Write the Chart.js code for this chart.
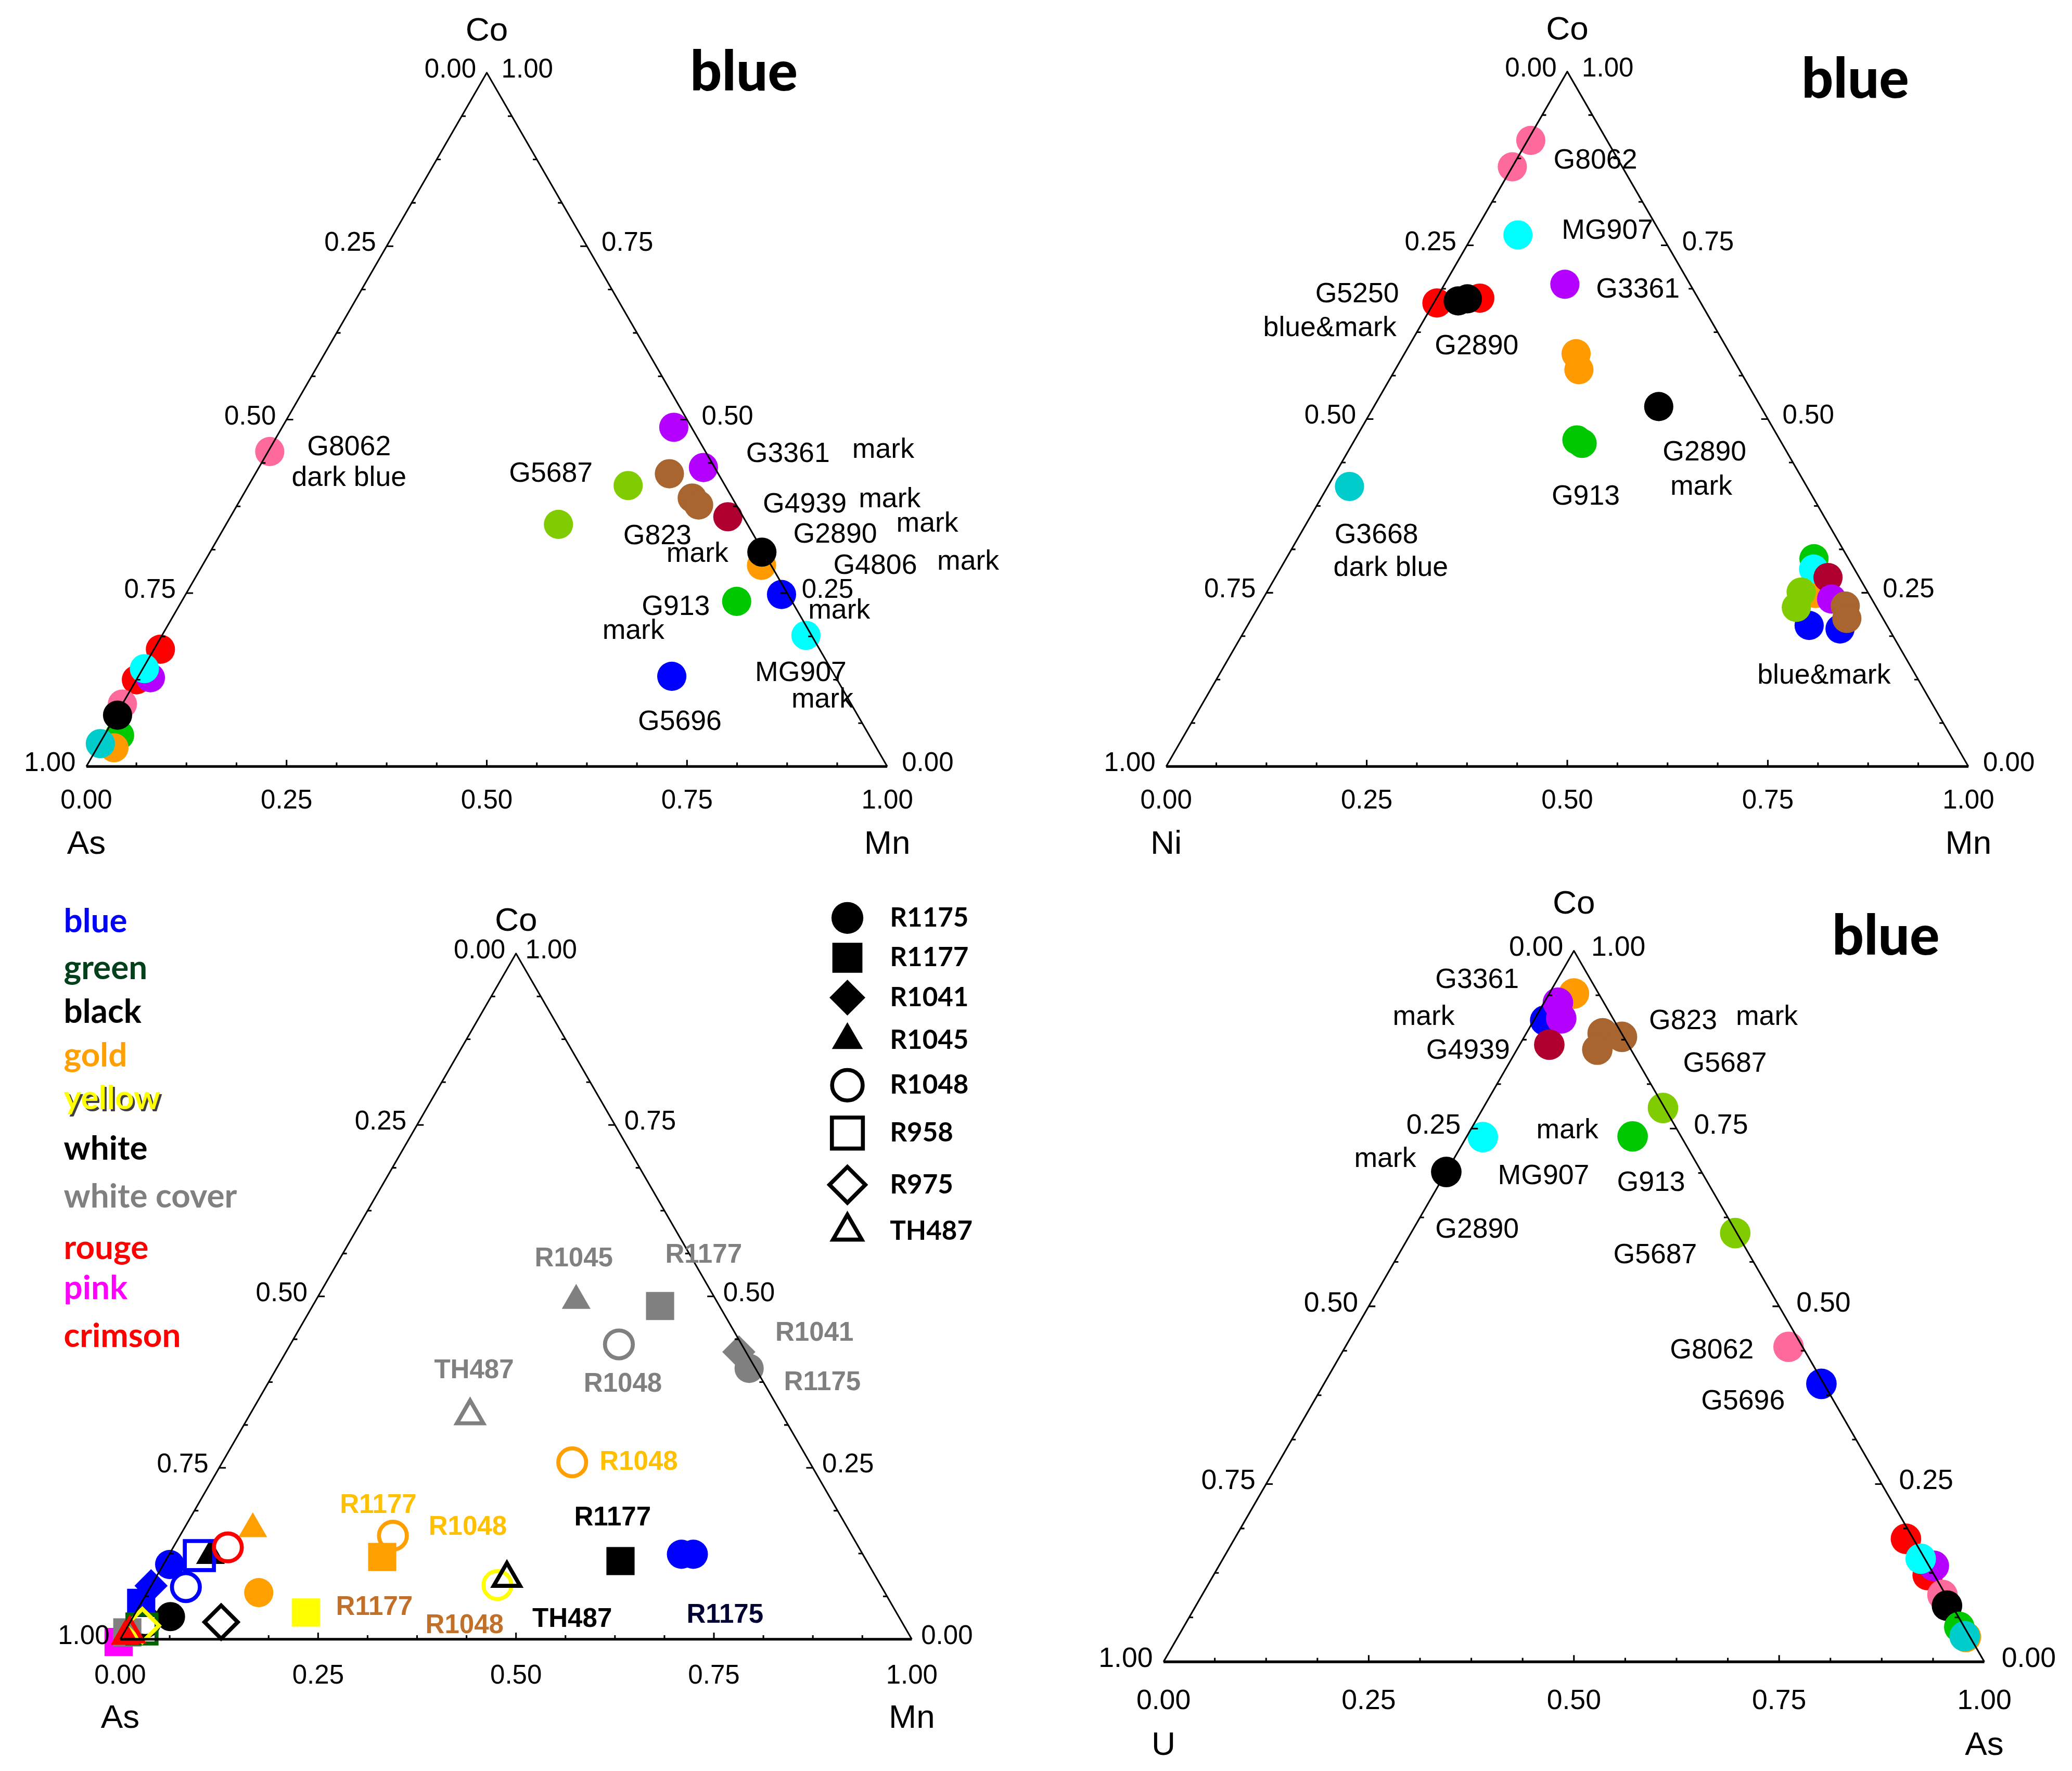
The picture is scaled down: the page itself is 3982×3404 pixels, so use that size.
<!DOCTYPE html>
<html>
<head>
<meta charset="utf-8">
<script src="https://cdn.jsdelivr.net/npm/chart.js@4.4.1/dist/chart.umd.min.js"></script>
<style>
html, body { margin: 0; padding: 0; background: #fff; }
body { width: 3982px; height: 3404px; position: relative; overflow: hidden; }
canvas { position: absolute; }
</style>
</head>
<body>
<canvas id="tl"></canvas>
<canvas id="tr"></canvas>
<canvas id="bl"></canvas>
<canvas id="br"></canvas>
<script>
var S = 3982 / 1560;
var H3 = Math.sqrt(3) / 2;
var FONT = '"Liberation Sans", Arial, sans-serif';

var tickLabels = ['0.00', '0.25', '0.50', '0.75', '1.00'];

// top left: As - Mn - Co
var tlColor = ['purple', 'purple', 'brown', 'lime', 'brown', 'brown', 'crimson', 'lime', 'orange', 'black', 'blue', 'green', 'cyan', 'blue',
    'pink', 'red', 'red', 'purple', 'cyan', 'pink', 'green', 'orange', 'teal', 'black'];
var tlCo = [0.489, 0.431, 0.422, 0.405, 0.387, 0.377, 0.360, 0.349, 0.290, 0.309, 0.248, 0.238, 0.189, 0.130,
    0.454, 0.169, 0.125, 0.128, 0.141, 0.090, 0.045, 0.027, 0.033, 0.074];
var tlMn = [0.489, 0.555, 0.517, 0.474, 0.563, 0.576, 0.621, 0.415, 0.698, 0.689, 0.744, 0.693, 0.804, 0.666,
    0.002, 0.008, 0.000, 0.016, 0.002, 0.000, 0.019, 0.021, 0.001, 0.002];

// top right: Ni - Mn - Co
var trColor = ['pink', 'pink', 'cyan', 'purple', 'red', 'red', 'black', 'black', 'orange', 'orange', 'black', 'green', 'green', 'teal',
    'orange', 'green', 'cyan', 'crimson', 'purple', 'blue', 'blue', 'lime', 'lime', 'brown', 'brown'];
var trCo = [0.901, 0.863, 0.765, 0.694, 0.667, 0.674, 0.670, 0.673, 0.594, 0.571, 0.518, 0.470, 0.465, 0.403,
    0.249, 0.299, 0.284, 0.272, 0.241, 0.203, 0.198, 0.251, 0.229, 0.231, 0.213];
var trMn = [0.004, 0.000, 0.056, 0.150, 0.004, 0.054, 0.029, 0.039, 0.214, 0.229, 0.355, 0.277, 0.286, 0.027,
    0.685, 0.658, 0.665, 0.689, 0.709, 0.700, 0.741, 0.666, 0.671, 0.731, 0.742];

// bottom right: U - As - Co
var brColor = ['orange', 'blue', 'purple', 'purple', 'crimson', 'brown', 'brown', 'brown', 'lime', 'cyan', 'green', 'black', 'lime', 'pink', 'blue',
    'red', 'red', 'purple', 'cyan', 'pink', 'black', 'orange', 'green', 'teal'];
var brCo = [0.940, 0.902, 0.927, 0.905, 0.868, 0.884, 0.879, 0.861, 0.779, 0.738, 0.739, 0.689, 0.603, 0.443, 0.391,
    0.173, 0.122, 0.135, 0.145, 0.094, 0.079, 0.035, 0.049, 0.036];
var brAs = [0.030, 0.014, 0.017, 0.032, 0.036, 0.093, 0.119, 0.098, 0.219, 0.020, 0.202, 0.000, 0.395, 0.540, 0.606,
    0.818, 0.870, 0.871, 0.850, 0.902, 0.915, 0.960, 0.945, 0.958];

// bottom left: As - Mn - Co, by sample and colour
var blSample = ['R1177',
    'R1045', 'R1177', 'R1048', 'R1041', 'R1175', 'TH487',
    'R1048', 'R1048', 'R1177', 'R1045', 'R1175',
    'R1177', 'R1048',
    'TH487', 'R1177', 'R975', 'R1048', 'R1175', 'R1045',
    'R1175', 'R1175', 'R958', 'R1175', 'R1048', 'R1041', 'R1177',
    'R1048',
    'R1177', 'R958', 'R975', 'R1045', 'TH487'];
var blColor = ['magenta',
    'grey', 'grey', 'grey', 'grey', 'grey', 'grey',
    'gold', 'gold', 'gold', 'gold', 'gold',
    'yellow', 'yellow',
    'black', 'black', 'black', 'black', 'black', 'black',
    'blue', 'blue', 'blue', 'blue', 'blue', 'blue', 'blue',
    'red',
    'grey', 'dkgreen', 'yellow', 'red', 'red'];
var blCo = [-0.004,
    0.494, 0.486, 0.430, 0.419, 0.395, 0.326,
    0.258, 0.151, 0.120, 0.161, 0.068,
    0.039, 0.079,
    0.089, 0.114, 0.025, 0.025, 0.033, 0.122,
    0.124, 0.124, 0.122, 0.109, 0.076, 0.078, 0.053,
    0.134,
    0.010, 0.015, 0.020, 0.004, 0.008];
var blMn = [0.000,
    0.329, 0.439, 0.415, 0.572, 0.597, 0.279,
    0.442, 0.269, 0.271, 0.087, 0.141,
    0.215, 0.437,
    0.444, 0.575, 0.115, 0.019, 0.047, 0.053,
    0.647, 0.662, 0.039, 0.008, 0.045, 0.000, 0.000,
    0.069,
    0.004, 0.020, 0.018, 0.004, 0.008];

var palette = {
    pink: '#FF6A9C', purple: '#B300FF', brown: '#A8652F', lime: '#80CC00', crimson: '#B00030',
    black: '#000000', orange: '#FF9A00', blue: '#0000FF', green: '#00C800', cyan: '#00FFFF',
    teal: '#00CCCC', red: '#FF0000', grey: '#808080', gold: '#FFA000', yellow: '#FFFF00',
    dkgreen: '#006400', magenta: '#FF00FF'
};

var markerStyle = {
    R1175: { style: 'circle', r: 11, fill: true },
    R1177: { style: 'rect', r: 15, fill: true },
    R1041: { style: 'rectRot', r: 12.5, fill: true },
    R1045: { style: 'triangle', r: 12.5, fill: true },
    R1048: { style: 'circle', r: 10.5, fill: false },
    R958: { style: 'rect', r: 15.5, fill: false },
    R975: { style: 'rectRot', r: 12.5, fill: false },
    TH487: { style: 'triangle', r: 11.5, fill: false }
};

// text labels, anchored in chart units (x along the base, y up)
var tlNotes = [['G8062', 0.328, 0.398], ['dark blue', 0.328, 0.360], ['G5687', 0.580, 0.365],
    ['G3361', 0.876, 0.390], ['mark', 0.995, 0.395], ['G4939', 0.897, 0.327], ['mark', 1.003, 0.333],
    ['G823', 0.713, 0.287], ['mark', 0.763, 0.265], ['G2890', 0.935, 0.289], ['mark', 1.050, 0.303],
    ['G4806', 0.985, 0.250], ['mark', 1.101, 0.255], ['mark', 0.940, 0.194],
    ['G913', 0.736, 0.199], ['mark', 0.683, 0.169], ['MG907', 0.892, 0.116], ['mark', 0.919, 0.083],
    ['G5696', 0.741, 0.055]];
var trNotes = [['G8062', 0.535, 0.755], ['MG907', 0.550, 0.667], ['G3361', 0.588, 0.594],
    ['G5250', 0.238, 0.588], ['blue&mark', 0.204, 0.546], ['G2890', 0.387, 0.523],
    ['G2890', 0.671, 0.391], ['mark', 0.667, 0.348], ['G913', 0.523, 0.336],
    ['G3668', 0.262, 0.288], ['dark blue', 0.280, 0.247], ['blue&mark', 0.820, 0.113]];
var brNotes = [['G3361', 0.382, 0.830], ['mark', 0.317, 0.785], ['G4939', 0.371, 0.744],
    ['G823', 0.633, 0.780], ['mark', 0.735, 0.785], ['G5687', 0.684, 0.728],
    ['mark', 0.492, 0.647], ['mark', 0.270, 0.612], ['MG907', 0.463, 0.591], ['G913', 0.594, 0.583],
    ['G2890', 0.382, 0.526], ['G5687', 0.599, 0.495], ['G8062', 0.668, 0.379], ['G5696', 0.706, 0.317]];
var blNotes = [['R1045', 0.573, 0.480, '#808080'], ['R1177', 0.737, 0.485, '#808080'],
    ['TH487', 0.447, 0.339, '#808080'], ['R1048', 0.635, 0.322, '#808080'],
    ['R1041', 0.877, 0.386, '#808080'], ['R1175', 0.887, 0.324, '#808080'],
    ['R1048', 0.655, 0.223, '#FFC000'], ['R1177', 0.326, 0.169, '#FFC000'], ['R1048', 0.439, 0.141, '#FFC000'],
    ['R1177', 0.321, 0.040, '#C07028'], ['R1048', 0.435, 0.017, '#C07028'],
    ['R1177', 0.622, 0.153, '#000000'], ['TH487', 0.571, 0.025, '#000000'],
    ['R1175', 0.764, 0.030, '#000033']];

var colourNames = ['blue', 'green', 'black', 'gold', 'yellow', 'white', 'white cover', 'rouge', 'pink', 'crimson'];
var colourInk = ['#0000FF', '#00401A', '#000000', '#FFA000', '#FFFF00', '#000000', '#808080', '#FF0000', '#FF00FF', '#FF0000'];
var sampleNames = ['R1175', 'R1177', 'R1041', 'R1045', 'R1048', 'R958', 'R975', 'TH487'];

var ternaryPlugin = {
    id: 'ternary',
    afterDatasetsDraw: function (chart, args, o) {
        var ctx = chart.ctx;
        var sx = chart.scales.x, sy = chart.scales.y;
        var px = function (v) { return sx.getPixelForValue(v); };
        var py = function (v) { return sy.getPixelForValue(v); };
        var L = [px(0), py(0)], R = [px(1), py(0)], T = [px(0.5), py(H3)];
        ctx.save();
        ctx.strokeStyle = '#000';
        ctx.lineJoin = 'round';
        ctx.lineWidth = 1.2 * S;
        ctx.beginPath();
        ctx.moveTo(L[0], L[1]);
        ctx.lineTo(T[0], T[1]);
        ctx.lineTo(R[0], R[1]);
        ctx.stroke();
        ctx.lineWidth = 2 * S;
        ctx.beginPath();
        ctx.moveTo(L[0], L[1]);
        ctx.lineTo(R[0], R[1]);
        ctx.stroke();

        ctx.lineWidth = 1.2 * S;
        for (var i = 1; i < 16; i++) {
            var f = i / 16;
            var len = (i % 4 === 0 ? 5 : 3) * S;
            ctx.beginPath();
            ctx.moveTo(px(f), py(0));
            ctx.lineTo(px(f), py(0) - len);
            ctx.moveTo(px(f / 2), py(f * H3));
            ctx.lineTo(px(f / 2) + len, py(f * H3));
            ctx.moveTo(px(1 - f / 2), py(f * H3));
            ctx.lineTo(px(1 - f / 2) - len, py(f * H3));
            ctx.stroke();
        }

        ctx.fillStyle = '#000';
        ctx.textBaseline = 'middle';
        ctx.font = o.tickSize * S + 'px ' + FONT;
        tickLabels.forEach(function (t, k) {
            var f = k / 4;
            ctx.textAlign = 'center';
            ctx.fillText(t, px(f), py(0) + o.bottomGap * S);
            ctx.textAlign = 'right';
            ctx.fillText(tickLabels[4 - k], px(f / 2) - 8 * S, py(f * H3) - 2 * S);
            ctx.textAlign = 'left';
            ctx.fillText(t, px(1 - f / 2) + o.rightGap * S, py(f * H3) - 2 * S);
        });

        ctx.textAlign = 'center';
        ctx.font = o.nameSize * S + 'px ' + FONT;
        ctx.fillText(o.names[0], L[0], L[1] + o.nameGap * S);
        ctx.fillText(o.names[1], R[0], R[1] + o.nameGap * S);
        ctx.fillText(o.names[2], T[0], T[1] - o.topGap * S);

        ctx.font = (o.noteBold ? 'bold ' : '') + o.noteSize * S + 'px ' + FONT;
        o.notes.forEach(function (n) {
            ctx.fillStyle = n[3] || '#000';
            ctx.fillText(n[0], px(n[1]), py(n[2]));
        });

        if (o.title) {
            ctx.fillStyle = '#000';
            ctx.font = '900 ' + 42 * S + 'px Lato, sans-serif';
            ctx.fillText(o.title, px(o.titleAt[0]), py(o.titleAt[1]));
        }
        ctx.restore();
    }
};

// colour and sample keys of the lower left diagram
var legendPlugin = {
    id: 'sampleLegend',
    afterDraw: function (chart) {
        var ctx = chart.ctx;
        var rowsLeft = [27, 62, 95, 128, 160, 198, 234, 273, 303, 339];
        var rowsRight = [24, 54, 84, 116, 150, 186, 225, 260];
        ctx.save();
        ctx.textBaseline = 'middle';
        ctx.textAlign = 'left';
        ctx.font = 'bold ' + 25 * S + 'px Lato, sans-serif';
        colourNames.forEach(function (n, i) {
            if (n === 'yellow') {
                ctx.fillStyle = '#404040';
                ctx.fillText(n, 48 * S + 1.5 * S, rowsLeft[i] * S + 1.5 * S);
            }
            ctx.fillStyle = colourInk[i];
            ctx.fillText(n, 48 * S, rowsLeft[i] * S);
        });
        ctx.font = 'bold ' + 20 * S + 'px Lato, sans-serif';
        sampleNames.forEach(function (n, i) {
            var m = markerStyle[n];
            ctx.fillStyle = m.fill ? '#000' : 'rgba(0,0,0,0)';
            ctx.strokeStyle = '#000';
            Chart.helpers.drawPoint(ctx, {
                pointStyle: m.style,
                radius: (m.r + 1) * S,
                borderWidth: m.fill ? 0 : 3 * S,
                rotation: 0
            }, 638 * S, rowsRight[i] * S);
            ctx.fillStyle = '#000';
            ctx.fillText(n, 670 * S, rowsRight[i] * S);
        });
        ctx.restore();
    }
};

function ternarySet(colors, co, right, r) {
    return {
        data: co.map(function (c, i) { return { x: right[i] + c / 2, y: c * H3 }; }),
        pointBackgroundColor: colors.map(function (c) { return palette[c]; }),
        pointBorderWidth: 0,
        pointRadius: r * S,
        pointHoverRadius: r * S,
        clip: false
    };
}

function sampleSet() {
    return {
        data: blCo.map(function (c, i) { return { x: blMn[i] + c / 2, y: c * H3 }; }),
        pointStyle: blSample.map(function (s) { return markerStyle[s].style; }),
        pointRadius: blSample.map(function (s) { return markerStyle[s].r * S; }),
        pointHoverRadius: blSample.map(function (s) { return markerStyle[s].r * S; }),
        pointBackgroundColor: blSample.map(function (s, i) {
            return markerStyle[s].fill ? palette[blColor[i]] : 'rgba(0,0,0,0)';
        }),
        pointBorderColor: blColor.map(function (c) { return palette[c]; }),
        pointBorderWidth: blSample.map(function (s) { return markerStyle[s].fill ? 0 : 3 * S; }),
        clip: false
    };
}

// box: canvas rect, tri: left corner x, base y, side length (all in reference units)
function makeTernary(id, box, tri, dataset, opts, extra) {
    var canvas = document.getElementById(id);
    canvas.width = Math.round(box[2] * S);
    canvas.height = Math.round(box[3] * S);
    canvas.style.left = Math.round(box[0] * S) + 'px';
    canvas.style.top = Math.round(box[1] * S) + 'px';
    var side = tri[2];
    var pad = {
        left: (tri[0] - box[0]) * S,
        right: (box[0] + box[2] - tri[0] - side) * S,
        top: (tri[1] - side * H3 - box[1]) * S,
        bottom: (box[1] + box[3] - tri[1]) * S
    };
    return new Chart(canvas, {
        type: 'scatter',
        data: { datasets: [dataset] },
        options: {
            responsive: false,
            animation: false,
            devicePixelRatio: 1,
            events: [],
            layout: { padding: pad },
            scales: {
                x: { display: false, min: 0, max: 1 },
                y: { display: false, min: 0, max: H3 }
            },
            plugins: {
                legend: { display: false },
                tooltip: { enabled: false },
                ternary: opts
            }
        },
        plugins: [ternaryPlugin].concat(extra || [])
    });
}

makeTernary('tl', [0, 0, 780, 667], [65, 577, 603], ternarySet(tlColor, tlCo, tlMn, 11), {
    names: ['As', 'Mn', 'Co'], tickSize: 20, bottomGap: 26, rightGap: 11,
    nameSize: 25, nameGap: 59, topGap: 31, noteSize: 21, notes: tlNotes,
    title: 'blue', titleAt: [0.821, 0.866]
});

makeTernary('tr', [780, 0, 780, 667], [878, 577, 604], ternarySet(trColor, trCo, trMn, 11), {
    names: ['Ni', 'Mn', 'Co'], tickSize: 20, bottomGap: 26, rightGap: 11,
    nameSize: 25, nameGap: 59, topGap: 31, noteSize: 21, notes: trNotes,
    title: 'blue', titleAt: [0.859, 0.856]
});

makeTernary('bl', [0, 667, 780, 667], [90.5, 1234, 596], sampleSet(), {
    names: ['As', 'Mn', 'Co'], tickSize: 20, bottomGap: 28, rightGap: 7,
    nameSize: 25, nameGap: 60, topGap: 24, noteSize: 20, noteBold: true, notes: blNotes
}, [legendPlugin]);

makeTernary('br', [780, 667, 780, 667], [876, 1251, 618], ternarySet(brColor, brCo, brAs, 11.5), {
    names: ['U', 'As', 'Co'], tickSize: 21, bottomGap: 30, rightGap: 13,
    nameSize: 25, nameGap: 63, topGap: 35, noteSize: 21, notes: brNotes,
    title: 'blue', titleAt: [0.880, 0.883]
});
</script>
</body>
</html>
